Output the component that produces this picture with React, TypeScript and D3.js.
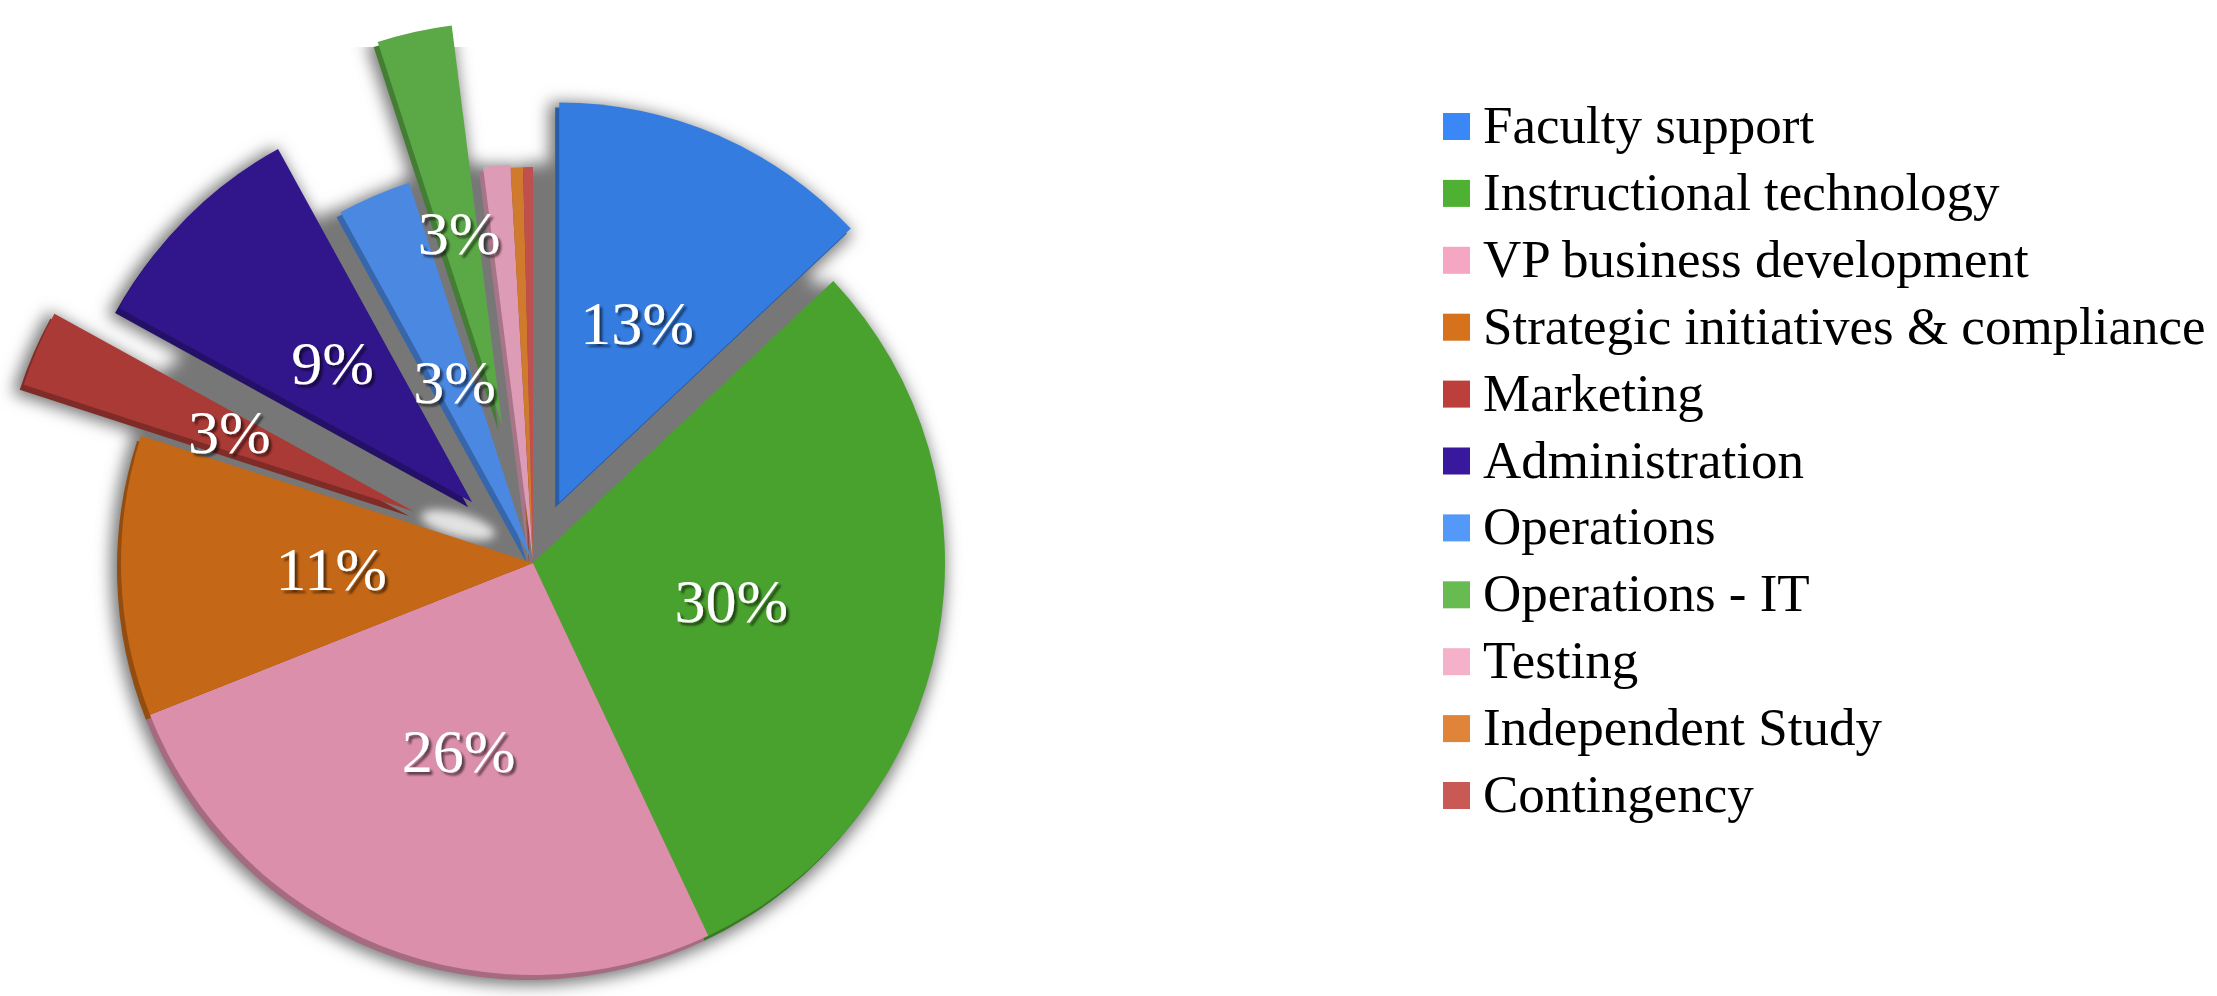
import * as d3 from 'd3';

const categories = [
  'Faculty support',
  'Instructional technology',
  'VP business development',
  'Strategic initiatives & compliance',
  'Marketing',
  'Administration',
  'Operations',
  'Operations - IT',
  'Testing',
  'Independent Study',
  'Contingency',
];
const values = [13, 30, 26, 11, 3, 9, 3, 3, 1.1, 0.5, 0.4];

const sliceColors = [
  '#347ce0', '#4aa22e', '#db8fab', '#c46716', '#a93a35', '#31158a',
  '#4a88e2', '#5ba847', '#dd9bb5', '#d07a2e', '#c0504d',
];
const legendColors = [
  '#3a88f8', '#4fb133', '#f4a6c2', '#d6711c', '#bd3f3b', '#38189c',
  '#5599f8', '#67bb50', '#f5b0ca', '#e0843a', '#c85955',
];
// how far each slice is pulled out of the pie, and its outer radius (px)
const explode = [66, 0, 0, 0, 130, 86, 3, 141, 3, 0, 0];
const outerR = [400, 412, 412, 412, 410, 403, 397, 403, 396, 396, 396];

const width = 2217;
const height = 996;
const cx = 533;
const cy = 563;
const font = '"Liberation Serif", "Times New Roman", serif';

export default function App() {
  const pie = d3.pie<number>().sort(null).value(d => d);
  const arcs = pie(values);
  const arc = d3.arc<d3.PieArcDatum<number>>()
    .innerRadius(0)
    .outerRadius(d => outerR[d.index]);

  const offset = (a: d3.PieArcDatum<number>, d: number) => {
    const mid = (a.startAngle + a.endAngle) / 2;
    return [Math.sin(mid) * d, -Math.cos(mid) * d];
  };

  return (
    <div style={{ position: 'absolute', left: 0, top: 0 }}>
      <svg width={width} height={height} style={{ display: 'block', background: '#fff' }}>
        <defs>
          <filter id="pieShadow" x="-20%" y="-20%" width="140%" height="140%">
            <feGaussianBlur stdDeviation="8" />
          </filter>
          <filter id="blob" x="-50%" y="-50%" width="200%" height="200%">
            <feGaussianBlur stdDeviation="5" />
          </filter>
          <filter id="labelShadow" x="-20%" y="-20%" width="140%" height="140%">
            <feDropShadow dx="3" dy="3" stdDeviation="1.2" floodColor="#000" floodOpacity="0.55" />
          </filter>
          <clipPath id="shadowClip">
            <rect x={0} y={47} width={1200} height={height} />
          </clipPath>
        </defs>

        {/* soft gray shadow under the whole pie and the pulled-out slices */}
        <g clipPath="url(#shadowClip)">
          <g filter="url(#pieShadow)" transform="translate(-5,5)" fill="#777" stroke="#777" strokeWidth={10}>
            <g transform={`translate(${cx},${cy})`}>
              {arcs.map((a, i) => (
                <path key={'u' + i} d={arc(a) || ''} />
              ))}
            </g>
            {arcs.map((a, i) => {
              const [dx, dy] = offset(a, explode[i]);
              return (
                <path key={'e' + i} d={arc(a) || ''} transform={`translate(${cx + dx},${cy + dy})`} />
              );
            })}
          </g>
        </g>

        <ellipse cx={458} cy={525} rx={38} ry={12} fill="#e2e2e2" filter="url(#blob)"
          transform="rotate(15 458 525)" />

        {/* slice sides (thickness) */}
        {arcs.map((a, i) => {
          const [dx, dy] = offset(a, explode[i]);
          return (
            <path key={'s' + i} d={arc(a) || ''}
              fill={d3.color(sliceColors[i])!.darker(0.8).toString()}
              transform={`translate(${cx + dx - 4},${cy + dy + 5})`} />
          );
        })}

        {/* slice tops */}
        {arcs.map((a, i) => {
          const [dx, dy] = offset(a, explode[i]);
          return (
            <path key={'t' + i} d={arc(a) || ''} fill={sliceColors[i]}
              transform={`translate(${cx + dx},${cy + dy})`} />
          );
        })}

        {/* percentage labels */}
        <g fontFamily={font} fontSize={62} fill="#fff" textAnchor="middle" filter="url(#labelShadow)">
          {arcs.map((a, i) => {
            if (values[i] < 2) return null;
            const [dx, dy] = offset(a, explode[i] + outerR[i] * 0.49);
            return (
              <text key={'l' + i} x={cx + dx} y={cy + dy} dy="0.34em">
                {Math.round(values[i])}%
              </text>
            );
          })}
        </g>

        {/* legend */}
        <g fontFamily={font} fontSize={53} fill="#000">
          {categories.map((c, i) => {
            const base = 143 + i * 66.9;
            return (
              <g key={c}>
                <rect x={1443} y={base - 30} width={27} height={27} fill={legendColors[i]} />
                <text x={1483} y={base}>{c}</text>
              </g>
            );
          })}
        </g>
      </svg>
    </div>
  );
}
